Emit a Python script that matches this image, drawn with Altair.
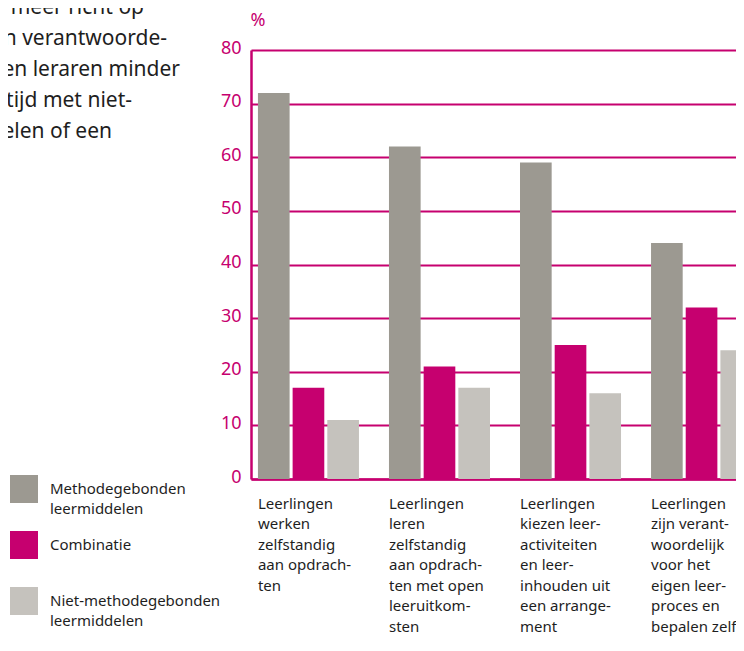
import altair as alt
import pandas as pd

# ---------------- data ----------------
categories = [
    "Leerlingen|werken|zelfstandig|aan opdrach-|ten",
    "Leerlingen|leren|zelfstandig|aan opdrach-|ten met open|leeruitkom-|sten",
    "Leerlingen|kiezen leer-|activiteiten|en leer-|inhouden uit|een arrange-|ment",
    "Leerlingen|zijn verant-|woordelijk|voor het|eigen leer-|proces en|bepalen zelf|leerinhoud",
]
series = ["Methodegebonden leermiddelen", "Combinatie", "Niet-methodegebonden leermiddelen"]
methodegebonden = [72, 62, 59, 44]
combinatie = [17, 21, 25, 32]
niet_methodegebonden = [11, 17, 16, 24]
y_ticks = [0, 10, 20, 30, 40, 50, 60, 70, 80]
paragraph = ["meer richt op", "n verantwoorde-", "en leraren minder", "tijd met niet-", "elen of een"]

colors = ["#9c9991", "#c6006f", "#c5c2bd"]
MAGENTA = "#c6006f"
TEXT = "#1e1e1e"
FONT = "Noto Sans"

rows = []
for cat, a, b, c in zip(categories, methodegebonden, combinatie, niet_methodegebonden):
    rows.append({"cat": cat, "series": series[0], "value": a})
    rows.append({"cat": cat, "series": series[1], "value": b})
    rows.append({"cat": cat, "series": series[2], "value": c})
df = pd.DataFrame(rows)

# layout constants (plot area: page x 251.., y 50..479)
PLOT_W = 485
PLOT_H = 429
para_right = [144, 167, 180, 132, 112]
para_base = [14, 45, 76, 107, 138]

bars = alt.Chart(df).mark_bar().encode(
    x=alt.X(
        "cat:N",
        sort=categories,
        scale=alt.Scale(range=[0, 508], paddingInner=0.229, paddingOuter=0.053),
        axis=alt.Axis(
            title=None,
            labelExpr="split(datum.label, '|')",
            labelAlign="left",
            labelBaseline="top",
            labelAngle=0,
            labelOffset=-50.5,
            ticks=False,
            tickSize=0,
            labelPadding=17,
            labelFontSize=15,
            labelFont=FONT,
            labelColor=TEXT,
            labelLineHeight=20.5,
            labelLimit=400,
            labelOverlap=False,
            domainColor=MAGENTA,
            domainWidth=2.5,
            grid=False,
        ),
    ),
    xOffset=alt.XOffset("series:N", sort=series,
                        scale=alt.Scale(domain=series, paddingInner=0.087, paddingOuter=0)),
    y=alt.Y(
        "value:Q",
        scale=alt.Scale(domain=[0, 80], nice=False),
        axis=alt.Axis(
            values=y_ticks,
            title="%",
            titleAngle=0,
            titleAlign="left",
            titleBaseline="middle",
            titleX=-1,
            titleY=-30,
            titleColor=MAGENTA,
            titleFontSize=18,
            titleFontWeight="normal",
            titleFont=FONT,
            labelColor=MAGENTA,
            labelFontSize=18,
            labelFont=FONT,
            labelPadding=10,
            labelOffset=-2,
            ticks=False,
            tickSize=0,
            domainColor=MAGENTA,
            domainWidth=2.5,
            gridColor=MAGENTA,
            gridWidth=2,
            gridOpacity=1,
        ),
    ),
    color=alt.Color(
        "series:N",
        scale=alt.Scale(domain=series, range=colors),
        legend=alt.Legend(
            title=None,
            orient="none",
            legendX=-241,
            legendY=425,
            direction="vertical",
            symbolType="square",
            symbolSize=784,
            symbolStrokeWidth=0,
            symbolOpacity=1,
            labelExpr="indexof(datum.label, ' ') > 0 ? split(datum.label, ' ') : [datum.label, '']",
            labelFontSize=15,
            labelFont=FONT,
            labelColor=TEXT,
            labelOffset=12,
            labelLimit=400,
            rowPadding=14,
            padding=0,
        ),
    ),
)

layers = [bars]
for line, rx, by in zip(paragraph, para_right, para_base):
    layers.append(
        alt.Chart(pd.DataFrame({"t": [line]})).mark_text(
            align="right", baseline="alphabetic", fontSize=21, font=FONT, color=TEXT
        ).encode(text="t:N", x=alt.value(rx - 251), y=alt.value(by - 50))
    )

chart = alt.layer(*layers).properties(
    width=PLOT_W,
    height=PLOT_H,
    autosize=alt.AutoSizeParams(type="none"),
    padding={"left": 243, "top": 42, "right": 0, "bottom": 159},
).configure_view(stroke=None).configure(
    font=FONT,
    style={"guide-label": {"lineHeight": 20}},
)

chart.save("out.html", embed_options={"renderer": "svg", "actions": False})
